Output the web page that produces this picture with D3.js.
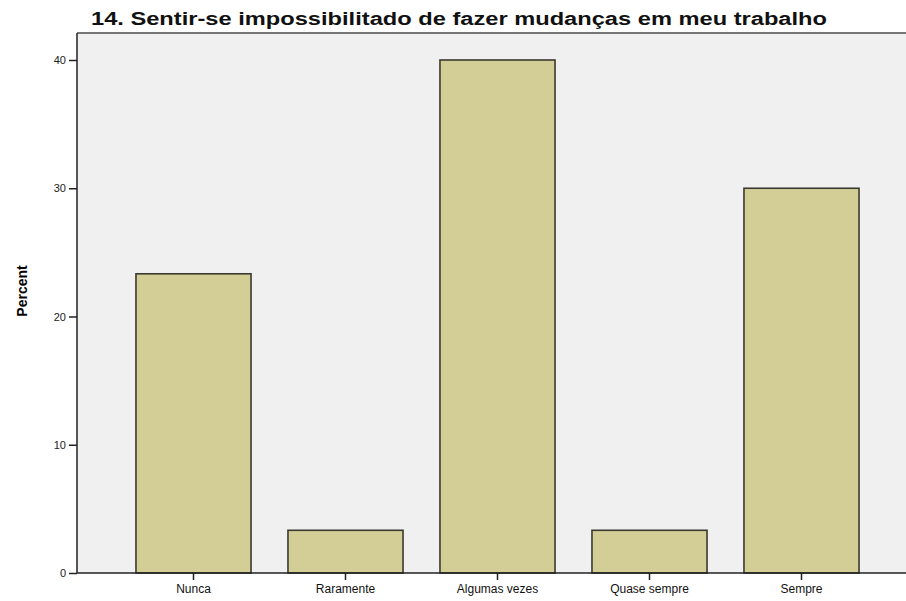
<!DOCTYPE html>
<html>
<head>
<meta charset="utf-8">
<script src="https://cdn.jsdelivr.net/npm/d3@7"></script>
<style>
    body { margin: 0; background: #ffffff; }
    text { font-family: "Liberation Sans", Arial, sans-serif; }
</style>
</head>
<body>
<div id="chart"></div>
<script>
// chart data (n = 30: 7, 1, 12, 1, 9)
let categories = ["Nunca", "Raramente", "Algumas vezes", "Quase sempre", "Sempre"];
let percents = [23.33, 3.33, 40.0, 3.33, 30.0];
let yTicks = [0, 10, 20, 30, 40];
let chartTitle = "14. Sentir-se impossibilitado de fazer mudanças em meu trabalho";
let yLabel = "Percent";

window.onload = function() {
    let w = 906;
    let h = 601;

    // plot frame
    let plot = {left: 77, top: 33, right: 912, bottom: 573};

    let svg = d3.select("#chart")
                .append("svg")
                .attr("width", w)
                .attr("height", h);

    // grey plot background
    svg.append("rect")
       .attr("x", plot.left)
       .attr("y", plot.top)
       .attr("width", plot.right - plot.left)
       .attr("height", plot.bottom - plot.top)
       .style("fill", "#f0f0f0");

    // top border line
    svg.append("line")
       .attr("x1", plot.left)
       .attr("x2", plot.right)
       .attr("y1", plot.top)
       .attr("y2", plot.top)
       .style("stroke", "#777777")
       .style("stroke-width", 2);

    // scales
    let xScale = d3.scaleBand()
                   .domain(categories)
                   .range([117.5, 877.5])
                   .paddingInner(0.243)
                   .paddingOuter(0.1215);

    let yScale = d3.scaleLinear()
                   .domain([0, 40])
                   .range([plot.bottom, 60]);

    // bars
    svg.append("g")
       .selectAll("rect")
       .data(percents)
       .enter()
       .append("rect")
       .attr("x", function(d, i) { return xScale(categories[i]); })
       .attr("y", function(d) { return yScale(d); })
       .attr("width", xScale.bandwidth())
       .attr("height", function(d) { return plot.bottom - yScale(d); })
       .style("fill", "#d2ce96")
       .style("stroke", "#3a3a30")
       .style("stroke-width", 1.6);

    // y axis
    let yAxis = d3.axisLeft(yScale)
                  .tickValues(yTicks)
                  .tickSize(8)
                  .tickPadding(3)
                  .tickFormat(d3.format("d"));

    let yG = svg.append("g")
                .attr("transform", "translate(" + plot.left + ",0)")
                .call(yAxis);
    yG.select(".domain")
      .attr("d", "M0," + plot.top + "V" + plot.bottom)
      .style("stroke", "#222222")
      .style("stroke-width", 1.5);
    yG.selectAll(".tick line").style("stroke", "#222222").style("stroke-width", 1.5);
    yG.selectAll(".tick text")
      .style("font-size", "11px")
      .style("fill", "#222222");

    // x axis
    let xAxis = d3.axisBottom(xScale)
                  .tickSize(7)
                  .tickPadding(4);

    let xG = svg.append("g")
                .attr("transform", "translate(0," + plot.bottom + ")")
                .call(xAxis);
    xG.select(".domain")
      .attr("d", "M" + plot.left + ",0H" + plot.right)
      .style("stroke", "#222222")
      .style("stroke-width", 1.5);
    xG.selectAll(".tick line").style("stroke", "#222222").style("stroke-width", 1.5);
    xG.selectAll(".tick text")
      .style("font-size", "12px")
      .style("fill", "#111111");

    // y axis title
    svg.append("text")
       .attr("transform", "translate(27,291) rotate(-90)")
       .attr("text-anchor", "middle")
       .style("font-size", "14px")
       .style("font-weight", "bold")
       .text(yLabel);

    // chart title
    svg.append("text")
       .attr("x", 91)
       .attr("y", 25)
       .attr("textLength", 736)
       .attr("lengthAdjust", "spacingAndGlyphs")
       .style("font-size", "18px")
       .style("font-weight", "bold")
       .style("fill", "#111111")
       .text(chartTitle);
};
</script>
</body>
</html>
